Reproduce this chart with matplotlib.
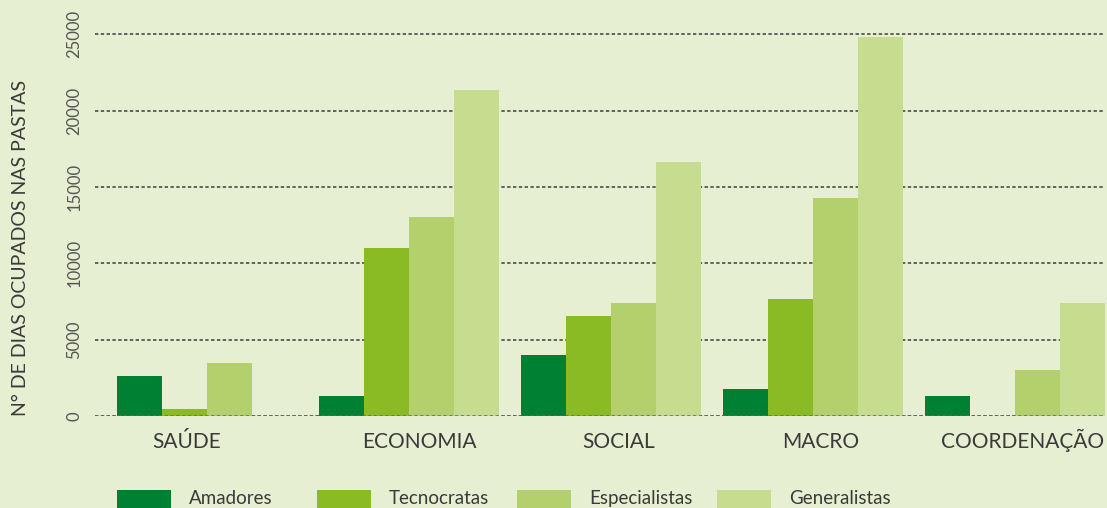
import matplotlib.pyplot as plt
import matplotlib.transforms as mtransforms
import numpy as np
from matplotlib.patches import Rectangle

plt.rcParams['font.family'] = ['Lato', 'DejaVu Sans']

# dias ocupados nas pastas, por área e por perfil
areas = ['SAÚDE', 'ECONOMIA', 'SOCIAL', 'MACRO', 'COORDENAÇÃO']
perfis = ['Amadores', 'Tecnocratas', 'Especialistas', 'Generalistas']
amadores = [2620, 1310, 3990, 1770, 1310]
tecnocratas = [460, 11000, 6540, 7660, 0]
especialistas = [3470, 13020, 7400, 14270, 3010]
generalistas = [0, 21330, 16620, 24800, 7400]
yticks = [0, 5000, 10000, 15000, 20000, 25000]

series = [amadores, tecnocratas, especialistas, generalistas]
cores = ['#008033', '#8bbb24', '#b3d06c', '#c6dc8f']
fundo = '#e6efd2'
texto = '#3a3a3a'

fig = plt.figure(figsize=(11.07, 5.08), dpi=100)
fig.patch.set_facecolor(fundo)
ax = fig.add_axes([0.0858, 0.1811, 0.9122, 0.7665])
ax.set_facecolor(fundo)

x = np.arange(len(areas))
w = 0.2228
for j, (vals, cor) in enumerate(zip(series, cores)):
    ax.bar(x + (j - 1.5) * w, vals, width=w, color=cor, zorder=2, linewidth=0)

ax.set_xlim(-0.555, 4.445)
ax.set_ylim(0, 25500)
ax.set_yticks(yticks)
ax.set_yticklabels([str(v) for v in yticks], rotation=90, va='center',
                   fontsize=12, color='#555555')
ax.tick_params(axis='y', length=0, pad=9)
ax.set_xticks(x)
ax.set_xticklabels(areas, fontsize=15, color=texto, va='baseline')
ax.tick_params(axis='x', length=0, pad=23)

# pequenos acertos horizontais dos nomes das áreas
desvios = [-20, 10, 8, 8, 8]
for lab, dx in zip(ax.get_xticklabels(), desvios):
    lab.set_transform(lab.get_transform() +
                      mtransforms.ScaledTranslation(dx / 100, 0, fig.dpi_scale_trans))

ax.grid(axis='y', color='#3c3c3c', linestyle=(0, (2.2, 1.6)), linewidth=1.1, zorder=1)
ax.axhline(0, color='#666666', linestyle=(0, (2.2, 1.6)), linewidth=1.1, zorder=3)
for s in ax.spines.values():
    s.set_visible(False)

ax.set_ylabel('N° DE DIAS OCUPADOS NAS PASTAS', fontsize=14, color=texto)
ax.yaxis.set_label_coords(-0.0654, 0.431)

# legenda em linha, por baixo do gráfico
W, H = fig.get_size_inches() * fig.dpi
for i, (nome, cor) in enumerate(zip(perfis, cores)):
    x0 = 117 + i * 200
    fig.add_artist(Rectangle((x0 / W, 0), 54 / W, 18 / H, transform=fig.transFigure,
                             facecolor=cor, edgecolor='none'))
    fig.text((x0 + 72) / W, 4 / H, nome, fontsize=13.5, color=texto, va='baseline')

fig.savefig('out.png', dpi=100, facecolor=fundo)
